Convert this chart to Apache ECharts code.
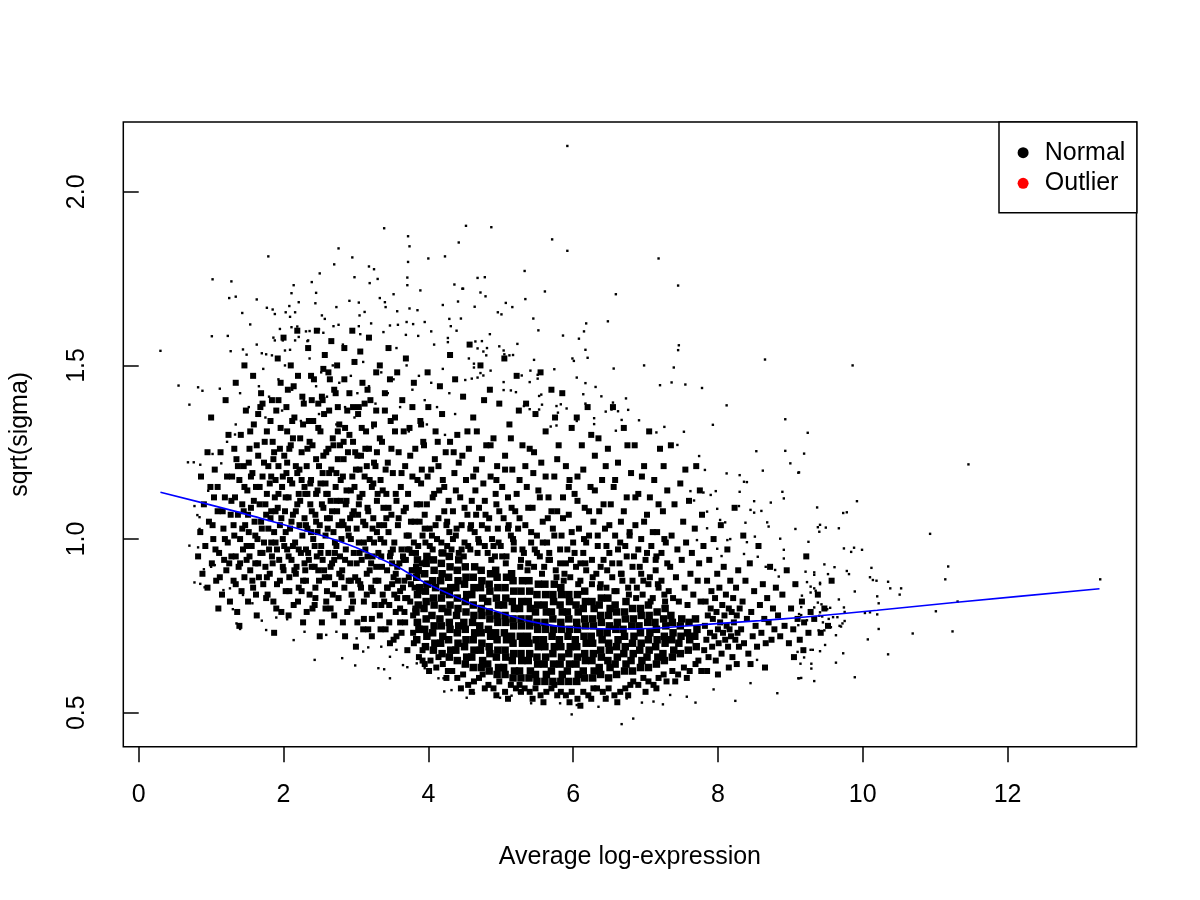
<!DOCTYPE html>
<html><head><meta charset="utf-8">
<script src="https://cdn.jsdelivr.net/npm/echarts@6/dist/echarts.min.js"></script>
<style>html,body{margin:0;padding:0;background:#fff}#chart{width:1200px;height:900px}</style>
</head><body><div id="chart"></div>
<script>
// Axis ticks
const xTicks = [0, 2, 4, 6, 8, 10, 12];
const yTicks = [0.5, 1.0, 1.5, 2.0];

// Individually readable points (x, y pairs, data units)
const sparsePts = [
3.39,1.895,3.72,1.872,3.74,1.843,4.42,1.854,2.76,1.837,1.79,1.814,2.95,1.811,4.00,1.808,4.23,1.814,3.72,1.798,2.70,1.791,3.18,1.785,3.25,1.777,2.50,1.765,1.02,1.748,1.28,1.742,2.98,1.754,3.30,1.749,3.19,1.737,3.71,1.753,3.71,1.731,2.14,1.731,2.39,1.740,2.45,1.709,2.11,1.708,4.36,1.733,3.89,1.716,4.47,1.721,1.25,1.694,1.34,1.698,1.63,1.690,2.44,1.679,2.21,1.682,2.08,1.671,2.91,1.686,3.04,1.681,3.33,1.694,3.40,1.682,3.41,1.668,3.52,1.705,3.57,1.656,3.74,1.664,3.85,1.659,4.20,1.674,4.41,1.684,1.43,1.651,1.77,1.666,1.85,1.661,1.88,1.648,2.03,1.653,2.09,1.640,2.16,1.653,2.73,1.668,2.53,1.644,2.57,1.634,3.12,1.654,3.05,1.644,1.54,1.618,1.01,1.584,1.23,1.585,0.30,1.542,1.27,1.541,1.44,1.546,1.49,1.531,0.55,1.442,0.82,1.437,0.88,1.427,1.12,1.433,0.70,1.387,1.70,1.535,1.76,1.532,1.84,1.529,1.95,1.605,2.11,1.610,2.19,1.612,2.31,1.598,2.36,1.599,2.55,1.594,2.76,1.617,2.69,1.613,2.49,1.604,3.21,1.621,3.04,1.613,3.38,1.596,3.47,1.615,3.58,1.617,3.70,1.625,3.79,1.619,3.95,1.625,4.29,1.634,4.31,1.613,4.39,1.600,3.69,1.588,3.86,1.585,4.04,1.598,4.27,1.579,4.27,1.567,1.88,1.572,1.99,1.572,2.02,1.543,2.09,1.545,2.16,1.572,2.21,1.582,2.34,1.572,
5.92,2.132,4.52,1.902,4.87,1.898,5.71,1.863,5.92,1.830,7.18,1.808,5.33,1.772,7.45,1.730,4.48,1.721,4.68,1.752,4.78,1.754,4.72,1.710,4.79,1.699,5.61,1.713,6.59,1.705,5.07,1.680,5.16,1.668,5.34,1.691,4.64,1.669,4.96,1.653,5.01,1.647,4.45,1.635,5.45,1.635,6.18,1.621,6.15,1.598,6.08,1.577,6.48,1.627,5.52,1.601,5.86,1.586,4.85,1.590,4.65,1.569,4.74,1.570,4.68,1.549,4.76,1.540,4.81,1.550,4.80,1.529,4.98,1.555,5.04,1.543,5.05,1.532,5.12,1.529,5.17,1.530,5.23,1.562,5.46,1.516,4.56,1.520,4.63,1.505,4.63,1.494,7.46,1.558,7.45,1.544,6.17,1.545,6.20,1.522,5.99,1.520,6.01,1.513,8.65,1.517,6.98,1.500,7.39,1.494,6.56,1.491,5.74,1.489,5.51,1.473,5.51,1.462,5.41,1.485,5.29,1.471,4.86,1.485,4.51,1.458,4.60,1.462,4.68,1.465,4.76,1.471,4.72,1.478,6.05,1.465,5.40,1.452,5.04,1.452,6.17,1.449,6.31,1.438,7.20,1.443,7.36,1.451,7.55,1.445,7.78,1.435,5.04,1.429,5.14,1.428,5.21,1.423,5.56,1.416,5.53,1.412,6.14,1.417,6.39,1.411,6.73,1.405,6.55,1.393,6.17,1.390,5.91,1.376,5.77,1.383,5.83,1.388,5.79,1.364,5.32,1.383,5.40,1.374,8.12,1.385,8.93,1.345,7.93,1.329,7.26,1.323,7.53,1.309,7.15,1.307,6.91,1.342,6.67,1.343,6.29,1.348,6.29,1.331,6.45,1.367,6.53,1.373,6.62,1.368,6.76,1.372,6.59,1.312,6.05,1.340,5.69,1.324,5.77,1.327,5.53,1.373,5.57,1.387,
9.86,1.500,9.24,1.306,
9.19,1.246,9.11,1.191,11.46,1.215,9.92,1.109,9.37,1.091,9.73,1.075,9.78,1.077,9.38,1.034,9.41,1.041,9.40,1.021,9.49,1.033,9.67,1.031,9.25,0.992,10.93,1.015,9.74,0.973,9.84,0.963,9.88,0.975,9.99,0.969,11.18,0.921,11.14,0.884,13.28,0.884,9.47,0.927,9.61,0.919,9.21,0.906,9.33,0.904,9.33,0.897,9.52,0.899,9.78,0.908,9.81,0.899,10.12,0.917,10.10,0.890,10.14,0.882,10.19,0.880,10.35,0.877,10.38,0.858,10.53,0.858,10.51,0.840,9.23,0.876,9.28,0.863,9.33,0.858,9.35,0.851,9.28,0.846,9.41,0.874,9.41,0.870,9.16,0.837,9.89,0.849,10.20,0.835,10.22,0.815,9.67,0.826,9.38,0.817,9.43,0.812,9.55,0.802,9.51,0.798,9.15,0.804,9.33,0.803,9.74,0.803,9.75,0.790,10.03,0.787,10.10,0.789,10.20,0.783,11.01,0.792,11.31,0.820,9.12,0.784,9.15,0.781,9.23,0.766,9.31,0.775,9.40,0.779,9.44,0.777,9.41,0.789,9.53,0.770,9.59,0.775,9.65,0.775,9.72,0.757,9.70,0.748,9.68,0.750,9.75,0.764,9.45,0.760,9.11,0.752,9.39,0.737,9.47,0.737,9.56,0.746,9.63,0.723,10.22,0.741,10.69,0.728,11.24,0.734,10.07,0.711,9.48,0.695,9.73,0.671,10.35,0.668,9.28,0.681,9.31,0.681,9.41,0.677,9.10,0.675,9.19,0.659,9.14,0.641,9.29,0.641,9.63,0.644,9.29,0.627,9.12,0.599,9.15,0.600,9.33,0.591,9.89,0.602,
7.44,1.271,7.74,1.239,8.53,1.253,8.93,1.254,9.00,1.218,9.12,1.192,7.82,1.199,8.12,1.189,8.30,1.184,8.36,1.165,8.40,1.164,8.62,1.197,8.30,1.136,7.97,1.138,7.90,1.127,7.80,1.134,7.62,1.138,7.67,1.111,8.50,1.109,8.60,1.081,8.73,1.105,8.89,1.136,8.91,1.117,8.45,1.084,8.50,1.076,7.85,1.079,7.99,1.087,8.29,1.095,8.68,1.048,8.70,1.036,8.38,1.047,8.03,1.055,8.10,1.048,7.85,1.031,9.07,1.029,8.51,1.007,8.40,0.991,8.13,0.997,8.17,1.000,7.99,0.972,8.05,0.951,8.86,1.001,8.91,0.969,8.91,0.944,8.55,0.949,8.66,0.920,8.36,0.957,8.79,0.911,8.84,0.892,9.05,0.868,7.71,0.997,7.80,0.983,
6.67,0.467,6.83,0.483,5.98,0.495,4.53,0.543,4.63,0.556,4.79,0.572,4.99,0.543,5.15,0.549,5.25,0.558,5.42,0.527,5.82,0.527,6.05,0.522,6.35,0.517,6.47,0.546,6.74,0.541,6.95,0.529,7.11,0.532,7.24,0.524,7.34,0.551,7.57,0.546,7.69,0.529,7.94,0.567,8.24,0.534,8.82,0.556,9.11,0.599,8.45,0.585,8.54,0.652,
0.68,1.221,0.76,1.221,0.85,1.214,1.14,1.218,1.02,1.245,1.33,1.301,0.96,1.139,0.77,1.095,0.84,1.063,0.81,1.069,0.84,1.029,0.70,0.981,0.91,0.978,0.82,0.976,0.90,0.913,0.77,0.875,0.85,0.871,0.91,0.861,1.00,0.920,1.05,0.925,1.17,0.853,1.26,0.858,1.30,0.798,1.35,0.757,1.40,0.741,1.44,0.839,1.57,0.815,1.70,0.765,1.76,0.738,1.90,0.774,2.05,0.769,2.14,0.709,2.29,0.733,2.43,0.652,2.81,0.657,2.99,0.636,3.31,0.628,3.39,0.625,3.47,0.599,3.65,0.637,3.71,0.631,3.84,0.642,3.95,0.628,4.14,0.599,4.21,0.599,4.22,0.561,4.32,0.565,2.59,0.724,2.73,0.733,2.82,0.762,3.01,0.714,3.10,0.676,3.17,0.688,3.35,0.690,3.47,0.661,3.56,0.681,
1.45,1.50,1.58,1.47,1.66,1.44,1.72,1.49,1.80,1.41,1.93,1.46,2.02,1.50,2.12,1.43,2.20,1.47,2.28,1.40,2.36,1.52,2.45,1.44,2.52,1.48,2.60,1.41,2.68,1.50,2.77,1.45,2.85,1.38,2.93,1.47,3.02,1.42,3.10,1.51,3.18,1.44,3.27,1.39,3.35,1.48,3.44,1.42,3.52,1.46,3.61,1.38,3.70,1.50,3.78,1.43,3.87,1.47,3.95,1.40,4.04,1.45,4.12,1.38,4.20,1.49,4.29,1.42,4.37,1.36,1.52,1.38,1.75,1.35,1.98,1.37,2.24,1.34,2.49,1.36,2.73,1.33,2.98,1.35,3.23,1.32,3.48,1.34,3.73,1.31,3.98,1.33,4.23,1.30,1.34,1.33,1.22,1.28,1.40,1.42,1.63,1.56,1.86,1.58,2.33,1.57,2.82,1.56,3.06,1.59,3.56,1.55,4.08,1.56
];

// Moderate-density cloud (x*100, y*100 pairs)
const cloudPts = [
82,95,85,102,88,90,90,110,92,98,95,86,97,105,99,115,101,93,103,100,105,120,107,88,109,108,111,96,113,125,115,84,117,103,119,112,121,91,123,99,124,130,126,82,127,107,129,118,95,125,110,80,100,135,120,140,128,95,86,118,
131,88,132,101,133,112,134,95,135,123,136,79,137,107,138,92,139,117,140,100,141,130,142,85,143,110,144,97,145,121,146,89,147,104,148,137,149,94,150,114,151,82,152,102,153,126,154,91,155,109,156,98,157,119,158,86,159,133,160,105,161,93,162,115,163,78,164,100,165,124,166,89,167,110,168,96,169,142,170,103,171,118,172,87,173,99,174,128,175,92,176,107,177,113,178,84,179,121,180,97,134,145,146,150,158,147,171,139,139,75,152,122,165,136,177,131,
181,90,182,106,183,118,184,95,185,128,186,82,187,102,188,112,189,99,190,137,191,87,192,109,193,121,194,94,195,104,196,132,197,79,198,115,199,100,200,91,201,124,202,108,203,85,204,119,205,97,206,143,207,112,208,89,209,103,210,127,211,94,212,116,213,107,214,81,215,135,216,99,217,121,218,92,219,110,220,147,221,86,222,104,223,129,224,96,225,117,226,101,227,76,228,139,229,93,230,113,184,140,192,152,200,158,210,150,219,160,227,133,186,123,195,88,205,131,213,98,222,120,229,106,189,108,199,118,208,126,217,90,225,85,183,99,193,140,203,102,212,134,221,113,230,91,187,73,207,78,
231,88,232,121,233,103,234,96,235,134,236,84,237,110,238,117,239,92,240,127,241,100,242,146,243,81,244,107,245,123,246,95,247,114,248,139,249,88,250,104,251,131,252,98,253,76,254,119,255,109,256,91,257,153,258,101,259,125,260,85,261,113,262,96,263,137,264,106,265,80,266,120,267,93,268,129,269,102,270,143,271,87,272,115,273,98,274,108,275,123,276,83,277,133,278,95,279,111,280,100,234,155,246,160,255,149,266,157,274,150,238,102,248,91,258,116,268,84,278,127,233,113,243,98,253,141,263,89,273,119,240,80,250,72,260,106,270,94,280,89,236,128,245,105,256,136,265,111,276,104,239,140,251,116,262,126,271,99,244,86,254,94,264,146,275,138,231,97,259,82,
281,91,282,118,283,104,284,86,285,132,286,97,287,111,288,79,289,125,290,101,291,142,292,93,293,114,294,84,295,107,296,128,297,96,298,151,299,89,300,120,301,103,302,76,303,136,304,99,305,112,306,87,307,124,308,94,309,145,310,105,311,82,312,118,313,97,314,131,315,90,316,109,317,74,318,126,319,100,320,140,321,86,322,115,323,95,324,106,325,133,326,81,327,121,328,92,329,102,330,113,284,155,295,160,306,154,318,158,328,148,286,110,296,82,305,96,315,121,325,99,283,128,293,100,303,88,313,104,323,85,288,137,298,115,308,132,319,91,329,125,285,72,300,69,311,77,322,72,290,88,302,124,312,139,324,116,292,106,304,110,316,95,
331,88,332,104,333,78,334,117,335,95,336,128,337,84,338,109,339,99,340,137,341,74,342,113,343,91,344,122,345,102,346,81,347,146,348,96,349,107,350,87,351,119,352,71,353,99,354,131,355,90,356,111,357,83,358,104,359,125,360,93,361,76,362,115,363,97,364,140,365,86,366,108,367,79,368,121,369,94,370,101,371,68,372,113,373,89,374,132,375,82,376,105,377,96,378,118,379,73,380,99,381,86,382,126,383,92,384,110,333,150,345,155,357,148,369,152,380,145,336,92,347,70,358,88,368,83,378,91,334,100,344,86,355,79,366,94,376,87,339,82,350,93,361,85,371,97,382,80,342,106,352,89,363,73,374,97,384,76,
386,98,388,105,390,116,392,101,394,127,396,99,398,110,400,138,402,103,404,120,406,97,408,113,410,131,412,100,414,106,416,144,418,99,420,117,422,108,424,125,426,98,428,111,430,153,389,134,399,148,409,123,419,136,429,102,387,66,395,64,403,65,411,63,420,64,427,62,392,68,401,62,414,66,425,60,395,107,405,101,415,114,425,104,391,120,413,128,
432,97,434,108,436,119,438,101,440,130,442,96,444,112,446,104,448,141,450,99,452,117,454,107,456,126,458,97,460,111,462,135,464,102,466,120,468,96,470,109,472,150,474,104,476,116,478,98,480,127,437,146,447,124,457,156,467,131,477,140,433,62,440,60,448,61,455,58,463,59,470,60,478,57,445,57,460,56,475,61,439,103,449,95,459,104,469,100,479,107,435,125,455,98,465,114,
482,96,484,106,486,118,488,100,490,129,492,95,494,110,496,103,498,139,500,98,502,115,504,106,506,124,508,95,510,112,512,133,514,101,516,120,518,97,520,108,522,147,524,103,526,117,528,94,530,127,485,143,495,121,505,152,515,109,525,137,483,58,490,57,498,59,506,56,514,58,521,57,528,56,494,55,510,54,526,58,487,94,497,99,507,93,517,100,527,92,493,113,511,104,
532,96,534,104,536,115,538,93,540,126,542,99,544,109,546,92,548,136,550,101,552,114,554,95,556,122,558,105,560,92,562,131,564,99,566,112,568,94,570,143,572,103,574,118,576,91,578,108,580,127,535,139,545,119,555,148,565,106,575,135,533,57,540,56,548,57,555,55,563,56,570,57,578,55,544,54,559,53,574,58,537,91,547,97,557,90,567,96,577,89,
582,93,584,101,586,112,588,90,590,121,592,97,594,107,596,89,598,132,600,99,602,113,604,92,606,118,608,103,610,88,612,127,614,96,616,109,618,91,620,138,622,101,624,115,626,87,628,105,630,124,585,142,595,117,605,135,615,100,625,130,583,56,590,55,598,56,606,54,614,56,621,55,628,57,595,53,610,52,625,54,587,88,597,94,607,87,617,93,627,89,
632,90,634,98,636,108,638,87,640,117,642,94,644,103,646,86,648,126,650,96,652,110,654,89,656,115,658,101,660,85,662,122,664,93,666,105,668,88,670,132,672,98,674,112,676,86,678,102,680,119,635,129,645,121,655,138,665,99,675,127,633,57,641,56,649,57,657,55,665,56,672,57,679,58,645,54,661,53,676,55,637,86,647,91,657,85,667,90,677,84,
682,88,684,95,686,104,688,86,690,113,692,92,694,100,696,84,698,121,700,94,702,107,704,87,706,112,708,98,710,83,712,117,714,91,716,102,718,86,720,126,722,96,724,108,726,84,728,99,730,114,685,127,695,118,705,131,715,95,725,121,683,59,690,58,697,60,704,59,711,58,718,60,725,61,700,56,715,57,729,59,687,83,697,88,707,82,717,87,727,82,
732,85,734,92,736,101,738,83,740,110,742,89,744,97,746,82,748,116,750,94,752,105,754,86,756,99,758,81,760,111,762,90,764,96,766,84,768,103,770,121,772,88,774,93,776,82,778,107,780,98,737,62,745,61,753,63,761,62,769,64,777,62,741,59,757,60,773,65,735,127,755,120,775,114,
781,68,782,75,783,82,784,71,785,88,786,78,787,66,788,94,789,73,790,80,791,85,792,69,793,77,794,100,795,72,796,83,797,65,798,79,799,90,800,74,801,70,802,86,803,76,804,104,805,67,806,81,807,73,808,92,809,78,810,71,811,84,812,75,813,97,814,69,815,80,816,74,817,88,818,72,819,79,820,66,821,83,822,76,823,109,824,71,825,86,826,78,827,73,828,91,829,69,830,80,785,62,800,61,815,63,826,64,
832,74,834,82,836,70,838,88,840,77,842,67,844,93,846,79,848,72,850,85,852,75,854,69,856,98,858,81,860,73,862,87,864,77,866,70,868,83,870,76,872,92,874,71,876,80,878,74,880,86,845,64,865,63,835,101,
883,78,886,72,889,84,892,75,895,91,898,70,901,80,904,74,907,87,910,77,913,71,916,82,919,76,922,95,925,73,928,79,905,66,918,68,
933,77,938,84,942,73,947,80,952,75,957,88,
102,104,106,97,109,115,112,89,116,108,119,100,122,118,125,93,128,111,131,104,134,87,137,121,140,93,143,103,146,115,149,98,104,112,118,94,132,126,145,108,
151,107,153,95,155,118,157,88,159,111,161,101,163,127,165,93,167,115,169,105,171,96,173,122,175,110,177,89,179,103,181,116,183,108,185,93,187,125,189,117,191,97,193,113,195,126,197,106,199,92,154,131,168,138,182,134,196,145,162,84,176,83,190,80,
201,98,203,112,205,122,207,95,209,117,211,105,213,129,215,91,217,108,219,119,221,97,223,111,225,125,227,88,229,115,231,104,233,126,235,94,237,116,239,108,241,134,243,92,245,113,247,102,249,121,204,138,214,144,226,141,238,147,248,132,208,85,220,82,232,79,244,83,
251,96,253,110,255,124,257,89,259,113,261,103,263,119,265,92,267,108,269,127,271,96,273,111,275,131,277,90,279,117,281,105,283,123,285,94,287,114,289,103,291,130,293,88,295,118,297,108,299,125,254,140,262,148,272,142,284,146,296,138,258,80,270,78,282,76,294,80,
301,93,303,107,305,120,307,86,309,113,311,99,313,126,315,84,317,108,319,117,321,93,323,103,325,122,327,88,329,111,331,96,333,129,335,81,337,114,339,104,341,120,343,86,345,109,347,95,349,126,304,138,316,143,328,137,340,142,348,134,310,74,322,77,334,74,346,76,
351,97,353,84,355,113,357,92,359,106,361,80,363,119,365,95,367,88,369,109,371,83,373,101,375,124,377,91,379,78,381,105,383,96,385,117,387,85,389,110,391,93,393,128,395,103,397,87,399,118,354,135,366,131,378,138,390,133,356,72,368,76,380,70,392,65,
402,98,406,112,410,104,414,121,418,96,422,115,426,105,430,128,434,100,438,114,442,122,446,97,450,109,454,131,458,103,462,118,466,107,470,99,474,123,478,111,482,103,486,127,490,98,494,117,498,108,502,95,506,120,510,103,514,129,518,99,522,113,526,106,530,97,534,121,538,109,542,102,546,125,550,96,554,112,558,99,562,118,566,94,570,108,574,101,578,123,582,97,586,106,590,93,594,115,598,102,602,96,606,111,610,93,614,120,618,99,622,108,626,94,630,114,634,101,638,92,642,110,646,98,650,104,654,93,658,117,662,97,666,90,670,108,674,95,678,101,682,92,686,112,690,97,694,90,698,105,702,96,706,89,710,102,714,94,718,110,722,88,726,100,730,93
];

// Darkest core of the cloud (x*100, y*100 pairs)
const corePts = [
384,71,387,74,385,76,383,79,386,81,385,84,388,86,384,89,386,91,385,94,
396,69,398,72,395,74,397,77,394,80,397,82,396,85,399,87,395,90,397,93,398,95,
407,68,409,70,406,73,408,75,405,78,408,81,407,83,410,86,406,88,408,91,407,94,
419,67,417,70,420,72,418,75,416,77,419,80,418,83,421,85,417,88,419,90,418,93,420,96,
429,66,431,68,428,71,430,74,429,76,427,79,430,81,429,84,431,86,428,89,430,92,429,95,
440,65,438,68,441,70,440,73,442,75,439,78,441,80,440,83,438,86,441,88,440,91,442,94,
451,64,453,66,450,69,452,71,451,74,449,76,452,79,451,82,453,84,450,87,452,89,451,92,
462,63,460,66,463,68,462,71,464,73,461,76,463,78,462,81,460,84,463,86,462,89,464,92,
473,63,475,65,472,68,474,70,473,73,471,75,474,78,473,80,475,83,472,86,474,88,473,91,
484,62,482,64,485,67,484,69,486,72,483,74,485,77,484,79,482,82,485,85,484,87,486,90,
495,61,497,63,494,66,496,68,495,71,493,73,496,76,495,78,497,81,494,83,496,86,495,89,493,91,
506,61,504,63,507,66,506,68,508,71,505,73,507,76,506,78,504,81,507,83,506,86,508,89,
517,60,519,62,516,65,518,67,517,70,515,72,518,75,517,77,519,80,516,82,518,85,517,88,515,90,
528,60,526,62,529,65,528,67,530,70,527,72,529,75,528,77,526,80,529,82,528,85,530,88,
539,60,541,62,538,65,540,67,539,70,537,72,540,75,539,77,541,80,538,82,540,85,539,88,
550,59,548,61,551,64,550,66,552,69,549,71,551,74,550,76,548,79,551,81,550,84,552,87,
561,59,563,61,560,64,562,66,561,69,559,71,562,74,561,76,563,79,560,81,562,84,561,87,
572,59,570,62,573,64,572,67,574,69,571,72,573,74,572,77,570,79,573,82,572,84,574,87,
583,59,585,61,582,64,584,66,583,69,581,71,584,74,583,76,585,79,582,81,584,84,583,86,
594,59,592,62,595,64,594,67,596,69,593,72,595,74,594,77,592,79,595,82,594,84,
605,59,607,61,604,64,606,66,605,69,603,71,606,74,605,76,607,79,604,81,606,84,
616,60,614,62,617,65,616,67,618,70,615,72,617,75,616,77,614,80,617,82,616,85,
627,60,629,62,626,65,628,67,627,70,625,72,628,75,627,77,629,80,626,82,
638,61,636,63,639,66,638,68,640,71,637,73,639,76,638,78,636,81,639,83,
649,60,651,63,648,65,650,68,649,70,647,73,650,75,649,78,651,80,648,83,
660,61,658,64,661,66,660,69,662,71,659,74,661,76,660,79,658,81,
671,62,673,64,670,67,672,69,671,72,669,74,672,77,671,79,673,82,
682,62,680,65,683,67,682,70,684,72,681,75,683,77,682,80,
693,63,695,65,692,68,694,70,693,73,691,75,694,78,693,80,
704,63,702,66,705,68,704,71,706,73,703,76,705,78,704,81,
715,64,717,66,714,69,716,71,715,74,713,76,716,79,
726,65,724,67,727,70,726,72,728,75,725,77,727,80,
737,66,739,68,736,71,738,73,737,76,735,78,
748,67,746,70,749,72,748,75,750,77,
759,68,761,71,758,73,760,76,
770,69,768,72,771,74,769,77
];

// Fitted trend line
const lowessX = [0.30,1.35,2.09,2.55,2.91,3.10,3.28,3.61,3.93,4.48,4.67,4.90,5.13,5.36,5.82,6.51,7.20,7.89,8.58,9.13,10.20,11.30,13.27];
const lowessY = [1.135,1.079,1.036,1.009,0.983,0.967,0.949,0.916,0.877,0.824,0.808,0.794,0.779,0.765,0.748,0.741,0.744,0.755,0.765,0.774,0.795,0.818,0.857];

function toPairs(arr, scale) {
  const out = [];
  for (let i = 0; i + 1 < arr.length; i += 2) out.push([arr[i] / scale, arr[i + 1] / scale]);
  return out;
}

const F = "'Liberation Sans', Arial, Helvetica, sans-serif";
const chart = echarts.init(document.getElementById('chart'), null, { renderer: 'canvas' });

const dotStyle = { color: '#000', opacity: 1 };
const option = {
  backgroundColor: '#ffffff',
  animation: false,
  textStyle: { fontFamily: F, color: '#000' },
  grid: {
    left: 123.3, right: 63.5, top: 122, bottom: 153.3,
    show: true, borderColor: '#000', borderWidth: 1.5, backgroundColor: 'transparent',
    containLabel: false, outerBoundsMode: 'none'
  },
  legend: {
    left: 999, top: 122, orient: 'vertical',
    data: ['Normal', 'Outlier'],
    icon: 'circle', itemWidth: 33.4, itemHeight: 11, itemGap: 5.6,
    padding: [18.2, 11.5, 16.9, 18.6],
    borderColor: '#000', borderWidth: 1.5, backgroundColor: '#fff',
    textStyle: { fontFamily: F, fontSize: 25, color: '#000', lineHeight: 25 },
    itemStyle: { opacity: 1 },
    selectedMode: false
  },
  xAxis: {
    type: 'value', min: -0.213, max: 13.781,
    axisLine: { show: false }, splitLine: { show: false },
    axisTick: { show: true, inside: false, length: 15.5, lineStyle: { color: '#000', width: 1.5 }, customValues: xTicks },
    axisLabel: { customValues: xTicks, margin: 36, fontSize: 25, color: '#000', fontFamily: F, formatter: v => String(v) },
    name: 'Average log-expression', nameLocation: 'middle', nameGap: 98,
    nameTextStyle: { fontSize: 25, color: '#000', fontFamily: F }
  },
  yAxis: {
    type: 'value', min: 0.402, max: 2.201,
    axisLine: { show: false }, splitLine: { show: false },
    axisTick: { show: true, inside: false, length: 15.5, lineStyle: { color: '#000', width: 1.5 }, customValues: yTicks },
    axisLabel: { customValues: yTicks, rotate: 90, margin: 34, fontSize: 25, color: '#000', fontFamily: F, formatter: v => v.toFixed(1) },
    name: 'sqrt(sigma)', nameLocation: 'middle', nameGap: 91, nameRotate: 90,
    nameTextStyle: { fontSize: 25, color: '#000', fontFamily: F }
  },
  series: [
    { name: 'Normal', type: 'scatter', symbol: 'rect', symbolSize: 2.4, data: toPairs(sparsePts, 1),
      itemStyle: dotStyle, silent: true, progressive: 0, z: 2 },
    { name: 'Normal', type: 'scatter', symbol: 'rect', symbolSize: 6, data: toPairs(cloudPts, 100),
      itemStyle: dotStyle, silent: true, progressive: 0, z: 2 },
    { name: 'Normal', type: 'scatter', symbol: 'rect', symbolSize: 7.5, data: toPairs(corePts, 100),
      itemStyle: dotStyle, silent: true, progressive: 0, z: 2 },
    { name: 'Outlier', type: 'scatter', symbol: 'circle', symbolSize: 11, data: [],
      itemStyle: { color: '#ff0000', opacity: 1 }, silent: true },
    { name: 'lowess', type: 'line', data: lowessX.map((x, i) => [x, lowessY[i]]),
      showSymbol: false, symbol: 'none', smooth: 0.3,
      lineStyle: { color: '#0000ff', width: 1.6 }, silent: true, z: 5 }
  ]
};
chart.setOption(option);
</script>
</body></html>
